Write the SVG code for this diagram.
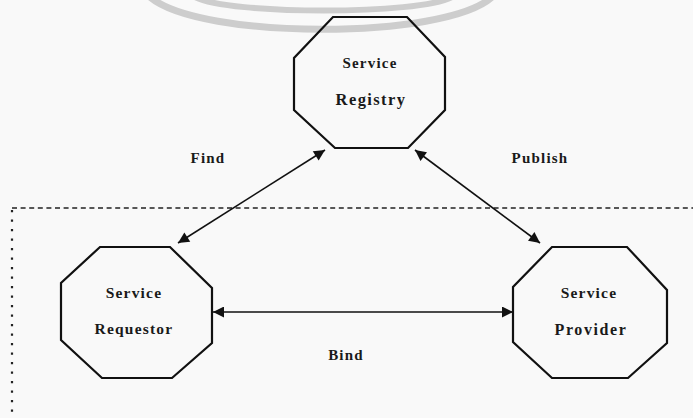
<svg xmlns="http://www.w3.org/2000/svg" width="693" height="418" viewBox="0 0 693 418">
<style>
.oct{fill:none;stroke:#111;stroke-width:2.2;stroke-linejoin:miter}
.t{font-family:"Liberation Serif","Times New Roman",serif;font-weight:bold;fill:#1a1a1a;text-anchor:middle;letter-spacing:1.2px}
.conn{stroke:#111;stroke-width:1.6;fill:none}
.wm{fill:none;stroke:#cdcdcd;stroke-linecap:butt}
</style>
<defs>
<marker id="ah" viewBox="0 0 10 10" refX="10" refY="5" markerWidth="12" markerHeight="11" markerUnits="userSpaceOnUse" orient="auto-start-reverse">
<path d="M0,0 L10,5 L0,10 z" fill="#111"/>
</marker>
</defs>
<rect width="693" height="418" fill="#f9f9f9"/>
<g id="watermark">
<path class="wm" stroke-width="7" d="M150,-3 C200,40 445,40 492,-3"/>
<path class="wm" stroke-width="6" d="M195,-3 C228,15 420,15 452,-3"/>
</g>
<g id="boundary">
<path d="M12,208 H693" stroke="#222" stroke-width="1.6" stroke-dasharray="5 3.6" fill="none"/>
<path d="M12,210 V418" stroke="#222" stroke-width="2.2" stroke-dasharray="2.2 7.3" fill="none"/>
</g>
<g id="connectors">
<line class="conn" x1="178" y1="243" x2="325" y2="150" marker-start="url(#ah)" marker-end="url(#ah)"/>
<line class="conn" x1="415" y1="150" x2="540" y2="243" marker-start="url(#ah)" marker-end="url(#ah)"/>
<line class="conn" x1="213" y1="312" x2="513" y2="312" marker-start="url(#ah)" marker-end="url(#ah)"/>
<text class="t" x="208" y="163" font-size="15">Find</text>
<text class="t" x="540" y="163" font-size="15">Publish</text>
<text class="t" x="346" y="360" font-size="15">Bind</text>
</g>
<g id="registry">
<polygon class="oct" points="333,17 407,17 445,57 445,110 408,148 335,148 294,110 294,58"/>
<text class="t" x="370" y="68" font-size="15">Service</text>
<text class="t" x="371" y="105" font-size="16.5" style="letter-spacing:1.4px">Registry</text>
</g>
<g id="requestor">
<polygon class="oct" points="100,247 170,247 212,288 212,343 172,378 102,378 61,340 61,283"/>
<text class="t" x="134" y="298" font-size="15.5">Service</text>
<text class="t" x="134" y="334" font-size="15.5">Requestor</text>
</g>
<g id="provider">
<polygon class="oct" points="552,247 627,247 667,290 667,343 628,378 552,378 513,342 513,287"/>
<text class="t" x="589" y="298" font-size="15.5">Service</text>
<text class="t" x="591" y="335" font-size="16" style="letter-spacing:1.6px">Provider</text>
</g>
</svg>
